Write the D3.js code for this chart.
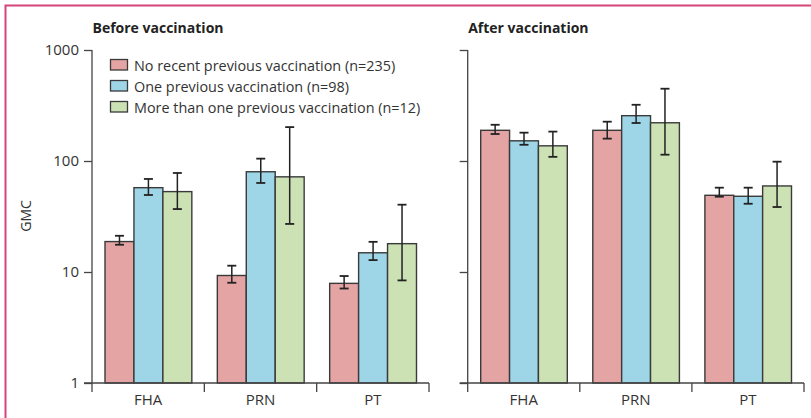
<!DOCTYPE html>
<html><head><meta charset="utf-8">
<script src="https://cdn.jsdelivr.net/npm/d3@7"></script>
<style>
html,body{margin:0;padding:0;background:#fff;}
svg{display:block;}
text{font-family:"Open Sans",sans-serif;fill:#333;}
</style></head>
<body><svg id="c" width="811" height="418"></svg>
<script>
const categories = ["FHA", "PRN", "PT"];
const seriesNames = ["No recent previous vaccination (n=235)", "One previous vaccination (n=98)", "More than one previous vaccination (n=12)"];
const seriesColors = ["#e3a4a3", "#9ed6e8", "#cce2b5"];
const panelTitles = ["Before vaccination", "After vaccination"];
const yTicks = [1, 10, 100, 1000];

// GMC values [series][category]
const beforeGMC = [[18.8, 9.3, 7.9], [57.5, 80, 14.9], [53, 72, 18]];
const beforeLow = [[17.6, 8.0, 7.1], [49.4, 63.4, 12.8], [36.9, 27.1, 8.4]];
const beforeHigh = [[21.2, 11.4, 9.2], [68.9, 105, 18.7], [78, 202, 40.4]];

const afterGMC = [[189, 189, 49.1], [152, 256, 48.1], [137, 221, 59.6]];
const afterLow = [[175, 159, 47.7], [140, 220, 41.2], [109, 114, 38.5]];
const afterHigh = [[212, 226, 57.5], [180, 321, 57.5], [184, 448, 98.6]];

const svg = d3.select("#c");

// frame
svg.append("path").attr("d", "M5.5,418 L5.5,5.5 L811,5.5")
  .attr("fill", "none").attr("stroke", "#d6447b").attr("stroke-width", 2);

const y = d3.scaleLog().domain([1, 1000]).range([383, 50]);

const panels = [
  {x0: 92, x1: 429, title: panelTitles[0], gmc: beforeGMC, lo: beforeLow, hi: beforeHigh, labels: true},
  {x0: 467.7, x1: 804, title: panelTitles[1], gmc: afterGMC, lo: afterLow, hi: afterHigh, labels: false}
];

panels.forEach(p => {
  const g = svg.append("g");
  const x = d3.scaleBand().domain(categories).range([p.x0, p.x1]);
  const xs = d3.scaleBand().domain(d3.range(3)).range([13, x.bandwidth() - 12.5]);

  // title
  g.append("text").attr("x", p.x0 + 0.5).attr("y", 33)
    .style("font-weight", "bold").style("font-size", "14px").style("fill", "#222")
    .text(p.title);

  // bars
  for (let s = 0; s < 3; s++) {
    categories.forEach((c, i) => {
      const bx = x(c) + xs(s);
      g.append("rect").attr("x", bx).attr("y", y(p.gmc[s][i]))
        .attr("width", xs.bandwidth()).attr("height", y(1) - y(p.gmc[s][i]))
        .attr("fill", seriesColors[s]).attr("stroke", "#3a3a3a").attr("stroke-width", 1.4);
    });
  }
  // error bars
  for (let s = 0; s < 3; s++) {
    categories.forEach((c, i) => {
      const cx = x(c) + xs(s) + xs.bandwidth() / 2;
      const lo = y(p.lo[s][i]), hi = y(p.hi[s][i]);
      g.append("line").attr("x1", cx).attr("x2", cx).attr("y1", lo).attr("y2", hi)
        .attr("stroke", "#222").attr("stroke-width", 1.5);
      [lo, hi].forEach(yy => g.append("line").attr("x1", cx - 4.5).attr("x2", cx + 4.5)
        .attr("y1", yy).attr("y2", yy).attr("stroke", "#222").attr("stroke-width", 1.8));
    });
  }

  // y axis
  const ya = d3.axisLeft(y).tickValues(yTicks).tickSize(8).tickPadding(5)
    .tickFormat(p.labels ? d3.format("d") : "");
  const yg = g.append("g").attr("transform", `translate(${p.x0},0)`).call(ya);
  yg.select(".domain").attr("d", `M0,${y(1000)}V${y(1) + 9}`).attr("stroke", "#444").attr("stroke-width", 1.3);
  yg.selectAll(".tick line").attr("stroke", "#444").attr("stroke-width", 1.3);
  yg.selectAll("text").style("font-size", "15px").style("fill", "#333").attr("font-family", null);
  // x axis
  const xa = d3.axisBottom(x).tickSize(0).tickPadding(11);
  const xg = g.append("g").attr("transform", `translate(0,${y(1)})`).call(xa);
  xg.select(".domain").attr("d", `M${p.x0 - 8},0H${p.x1}`).attr("stroke", "#444").attr("stroke-width", 1.3);
  xg.selectAll("text").style("font-size", "15px").style("fill", "#333").attr("font-family", null);
  // category divider ticks
  const bounds = categories.map(c => x(c)).concat([p.x1]).slice(1);
  bounds.forEach(b => xg.append("line").attr("x1", b).attr("x2", b).attr("y1", 0).attr("y2", 9)
    .attr("stroke", "#444").attr("stroke-width", 1.3));
});

// y label
svg.append("text").attr("transform", "translate(31,216) rotate(-90)")
  .attr("text-anchor", "middle").style("font-size", "14px").style("fill", "#333").text("GMC");

// legend
const lg = svg.append("g").attr("transform", "translate(110,59)");
seriesNames.forEach((n, i) => {
  const r = lg.append("g").attr("transform", `translate(0,${i * 21})`);
  r.append("rect").attr("x", 0.5).attr("y", 0.5).attr("width", 17).attr("height", 10.5)
    .attr("fill", seriesColors[i]).attr("stroke", "#3a3a3a").attr("stroke-width", 1.3);
  r.append("text").attr("x", 24).attr("y", 11.5).style("font-size", "14.4px").style("fill", "#333").text(n);
});
</script></body></html>
